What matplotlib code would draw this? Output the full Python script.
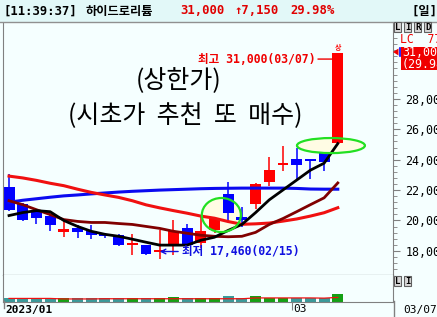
import matplotlib.pyplot as plt
from matplotlib.patches import Ellipse, Rectangle
from matplotlib.transforms import blended_transform_factory

plt.rcParams['font.family'] = ['DejaVu Sans Mono', 'Noto Sans CJK KR']

# daily candles, 2023/01/31 ~ 2023/03/07
opens  = [22230, 21080, 20540, 20320, 19240, 19480, 19330, 19140, 19030, 18380, 18380, 17900, 18380,
          19500, 18490, 19350, 21770, 20210, 21080, 22550, 23620, 24070, 23940, 24430, 25100]
highs  = [23030, 21150, 20600, 20350, 20000, 19680, 19680, 19200, 19100, 19140, 18400, 19350, 20000,
          19790, 20200, 20250, 22550, 20860, 22450, 24160, 24930, 24760, 23950, 24500, 31000]
lows   = [20650, 19950, 19740, 19300, 18920, 18850, 18770, 18850, 18310, 17730, 17700, 17460, 17730,
          18380, 18180, 19150, 19890, 19560, 20780, 22270, 23250, 22700, 22700, 23250, 25000]
closes = [20690, 20000, 20150, 19680, 19420, 19240, 19030, 18980, 18380, 18510, 17780, 18050, 19310,
          18380, 19310, 20110, 20470, 20060, 22380, 23290, 23720, 23620, 23900, 23850, 31000]

# moving averages
ma5  = [20325, 20520, 20650, 20580, 20000, 19610, 19290, 19090, 18960, 18770, 18570, 18380, 18380,
        18380, 18700, 18900, 19350, 19740, 20520, 21360, 22010, 22660, 23310, 23770, 25060]
ma10 = [21300, 21040, 20710, 20390, 20060, 19940, 19870, 19870, 19800, 19740, 19610, 19480, 19290,
        19160, 19030, 18960, 18930, 18960, 19220, 19740, 20130, 20580, 21040, 21490, 22470]
ma20 = [22920, 22800, 22640, 22450, 22290, 22060, 21850, 21680, 21520, 21300, 21030, 20830, 20650,
        20480, 20290, 20150, 19930, 19750, 19780, 19830, 19960, 20100, 20290, 20510, 20840]
ma60 = [21200, 21330, 21430, 21530, 21620, 21680, 21750, 21810, 21870, 21920, 21960, 22000, 22030,
        22060, 22090, 22110, 22120, 22130, 22130, 22130, 22130, 22110, 22070, 22060, 22060]

# volume (thousand shares)
volume  = [330, 320, 320, 330, 300, 310, 310, 300, 320, 320, 330, 330, 470,
           330, 330, 330, 500, 330, 500, 330, 330, 330, 330, 330, 770]
vol_ma5 = [300, 300, 300, 300, 250, 250, 250, 270, 270, 270, 270, 270, 270,
           270, 270, 270, 270, 270, 350, 350, 350, 350, 350, 330, 400]

price_ticks = [18000, 20000, 22000, 24000, 26000, 28000]

W, H = 437, 317


def rect(x0, y0, x1, y1):
    return [x0 / W, 1 - y1 / H, (x1 - x0) / W, (y1 - y0) / H]


def fx(x):
    return x / W


def fy(y):
    return 1 - y / H


bg = '#F5FFFF'
fig = plt.figure(figsize=(W / 100, H / 100), dpi=100, facecolor=bg)

# header bar
fig.patches.append(Rectangle((0, fy(21.5)), 1, 1 - fy(21.5), transform=fig.transFigure,
                             facecolor='#E2F8F8', edgecolor='none', zorder=0))
fig.add_artist(plt.Line2D([0, 1], [fy(21.5), fy(21.5)], color='#909090', lw=1))
hdr = dict(fontsize=8.8, fontweight='bold', va='center')
fig.text(fx(4), fy(11), '[11:39:37]', color='black', **hdr)
fig.text(fx(86), fy(11), '하이드로리튬', color='black', **hdr)
fig.text(fx(180), fy(11), '31,000', color='#E00000', **hdr)
fig.text(fx(234), fy(11), '↑7,150', color='#E00000', **hdr)
fig.text(fx(290), fy(11), '29.98%', color='#E00000', **hdr)
fig.text(fx(412), fy(11), '[일]', color='black', **hdr)

# price panel
ax = fig.add_axes(rect(3, 22, 393, 275))
ax.set_facecolor(bg)
idx = list(range(len(opens)))
colors = ['#FF0000' if c >= o else '#0000FF' for o, c in zip(opens, closes)]
body_low = [min(o, c) for o, c in zip(opens, closes)]
body_h = [max(abs(c - o), 150) for o, c in zip(opens, closes)]

ax.add_patch(Ellipse((15.5, 20360), 2.85, 2240, facecolor='#FFFCE4', edgecolor='none', zorder=1))
ax.add_patch(Ellipse((23.5, 24930), 4.96, 990, facecolor='#FFFCE4', edgecolor='none', zorder=1))

ax.vlines(idx, lows, highs, colors=colors, lw=1.1, zorder=2)
ax.bar(idx, body_h, bottom=body_low, width=0.8, color=colors, zorder=2)

ax.plot(idx, ma60, color='#0A0AF0', lw=2.2, zorder=3)
ax.plot(idx, ma20, color='#F01010', lw=2.2, zorder=3)
ax.plot(idx, ma10, color='#800000', lw=2.0, zorder=3)
ax.plot(idx, ma5, color='black', lw=2.0, zorder=3)

ax.add_patch(Ellipse((15.5, 20360), 2.85, 2240, facecolor='none', edgecolor='#22E022', lw=1.6, zorder=4))
ax.add_patch(Ellipse((23.5, 24930), 4.96, 990, facecolor='none', edgecolor='#22E022', lw=1.6, zorder=4))

ax.set_xlim(-0.44, 28.03)
ax.set_ylim(16414, 33059)
ax.set_xticks([])
ax.yaxis.tick_right()
ax.set_yticks(price_ticks)
ax.set_yticklabels([f'{p:,}' for p in price_ticks])
ax.set_yticks(list(range(16800, 33000, 400)), minor=True)
ax.tick_params(axis='y', which='major', length=5, color='#808080', pad=4, labelsize=8.4)
ax.tick_params(axis='y', which='minor', length=3, color='#808080')
for s in ['left', 'right']:
    ax.spines[s].set_color('#808080')
ax.spines['top'].set_visible(False)
ax.spines['bottom'].set_color('black')

# annotations
top_i = highs.index(max(highs))
low_i = lows.index(min(lows))
ax.text(top_i, highs[top_i] + 150, '상', ha='center', va='bottom', fontsize=5,
        color='red', fontweight='bold', zorder=5)
ax.annotate(f'최고 {max(highs):,}(03/07)', xy=(top_i - 0.4, 30620), xytext=(22.35, 30620),
            ha='right', va='center', fontsize=8.3, fontweight='bold', color='#F00000',
            arrowprops=dict(arrowstyle='-', color='#F00000', lw=1, shrinkA=0, shrinkB=0))
ax.annotate(f'최저 {min(lows):,}(02/15)', xy=(low_i, 17960), xytext=(12.65, 17960),
            ha='left', va='center', fontsize=8.3, fontweight='bold', color='#1010E0',
            arrowprops=dict(arrowstyle='->', color='#1010E0', lw=1, shrinkA=1, shrinkB=0))

big = dict(ha='center', va='center', fontsize=18, family=['Noto Sans CJK KR'],
           fontweight='normal', color='black')
fig.text(fx(179), fy(81), '(상한가)', **big)
fig.text(fx(185), fy(116), '(시초가  추천  또  매수)', **big)

# right-side widgets
for k, ch in enumerate('LIRD'):
    fig.text(fx(395 + k * 10), fy(27), ch, fontsize=6.5, fontweight='bold', va='center',
             bbox=dict(facecolor='#D8D8D8', edgecolor='#606060', pad=0.6, lw=0.8))
for k, ch in enumerate('LI'):
    fig.text(fx(395 + k * 10), fy(281), ch, fontsize=6.5, fontweight='bold', va='center',
             bbox=dict(facecolor='#D8D8D8', edgecolor='#606060', pad=0.6, lw=0.8))
fig.text(fx(400), fy(39.5), 'LC  77', fontsize=8.3, color='#F00000', va='center')
fig.patches.append(Rectangle((fx(401), fy(70)), fx(40), fy(47) - fy(70), transform=fig.transFigure,
                             facecolor='#F00000', edgecolor='none', zorder=3))
fig.text(fx(402), fy(53), '31,000', fontsize=8.4, color='white', va='center', zorder=4)
fig.text(fx(402), fy(64.5), '(29.98%)', fontsize=8.4, color='white', va='center', zorder=4)
fig.patches.append(plt.Polygon([(fx(393), fy(52)), (fx(398.5), fy(48.5)), (fx(398.5), fy(55.5))],
                               closed=True, transform=fig.transFigure, facecolor='#F00000',
                               edgecolor='none', zorder=4))
fig.add_artist(plt.Line2D([fx(399.5), fx(399.5)], [fy(48), fy(56)], color='#0000FF', lw=1.2))

# volume panel
axv = fig.add_axes(rect(3, 275, 393, 301.5))
axv.set_facecolor(bg)
vcol = ['#14A014' if c >= o else '#3A9A9A' for o, c in zip(opens, closes)]
axv.bar(idx, volume, width=0.8, color=vcol, zorder=2)
axv.plot(idx, vol_ma5, color='#F01010', lw=0.9, zorder=3)
axv.set_xlim(-0.44, 28.03)
axv.set_ylim(0, 2600)
axv.set_yticks([])
axv.set_xticks([20.65])
axv.set_xticklabels([''])
axv.tick_params(axis='x', length=6, color='#808080')
axv.spines['top'].set_visible(False)
for s in ['left', 'right', 'bottom']:
    axv.spines[s].set_color('#808080')
fig.add_artist(plt.Line2D([fx(393.5), fx(393.5)], [0, fy(301)], color='#808080', lw=1))
fig.add_artist(plt.Line2D([fx(3.5), fx(3.5)], [fy(301), fy(308)], color='#808080', lw=1))

tr = blended_transform_factory(axv.transData, fig.transFigure)
fig.text(fx(5), fy(309.5), '2023/01', fontsize=8, fontweight='bold', va='center')
axv.text(20.72, fy(309.5), '03', fontsize=8, va='center', transform=tr)
fig.text(fx(403), fy(309.5), '03/07', fontsize=8, va='center')

fig.savefig('out.png', dpi=100, facecolor=bg)
